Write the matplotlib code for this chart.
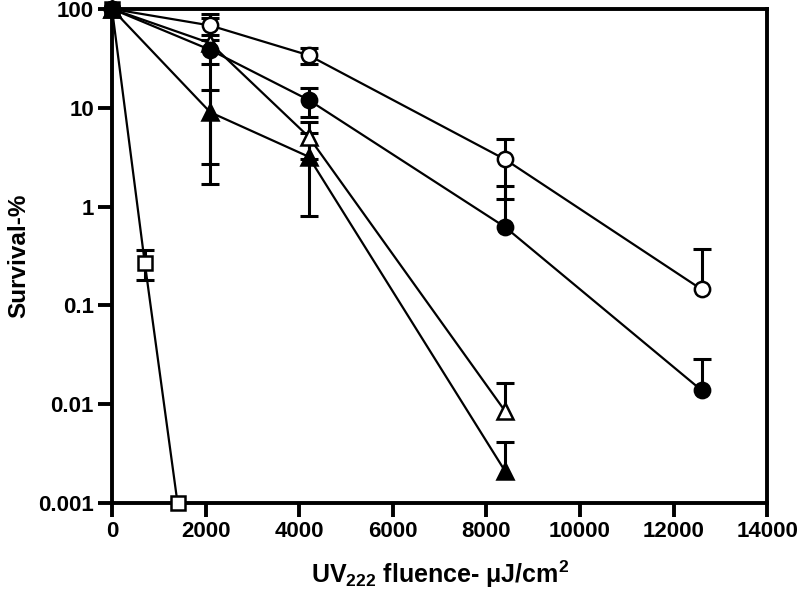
import matplotlib
matplotlib.use("Agg")
import matplotlib.pyplot as plt
import numpy as np

plt.rcParams['font.family'] = ['Liberation Sans', 'DejaVu Sans']
plt.rcParams['mathtext.fontset'] = 'custom'
plt.rcParams['mathtext.rm'] = 'Liberation Sans'
plt.rcParams['mathtext.bf'] = 'Liberation Sans:bold'

# ---- data ----
open_circle_x = [0, 2100, 4200, 8400, 12600]
open_circle_y = [100, 68, 34, 3.0, 0.145]
open_circle_sd = [0, 13, 6, 1.8, 0.23]

closed_circle_x = [0, 2100, 4200, 8400, 12600]
closed_circle_y = [100, 38.5, 12, 0.62, 0.0138]
closed_circle_sd = [0, 10.5, 4, 0.98, 0.0147]

open_tri_x = [0, 2100, 4200, 8400]
open_tri_y = [100, 45, 5.1, 0.0085]
open_tri_sd = [0, 43.3, 2.1, 0.0078]

closed_tri_x = [0, 2100, 4200, 8400]
closed_tri_y = [100, 9, 3.2, 0.0021]
closed_tri_sd = [0, 6.3, 2.4, 0.002]

square_x = [0, 700, 1400]
square_y = [100, 0.27, 0.001]
square_sd = [0, 0.09, 0]

x_ticks = [0, 2000, 4000, 6000, 8000, 10000, 12000, 14000]
y_ticks = [0.001, 0.01, 0.1, 1, 10, 100]
y_ticklabels = ["0.001", "0.01", "0.1", "1", "10", "100"]

fig = plt.figure(figsize=(8, 5.96), dpi=100)
ax = fig.add_axes([0.14, 0.156, 0.819, 0.829])
ax.set_yscale('log')
ax.set_xlim(0, 14000)
ymin, ymax = 0.001, 100
ax.set_ylim(ymin, ymax)

series = [
    (square_x, square_y, square_sd, 's', 'white'),
    (open_circle_x, open_circle_y, open_circle_sd, 'o', 'white'),
    (open_tri_x, open_tri_y, open_tri_sd, '^', 'white'),
    (closed_circle_x, closed_circle_y, closed_circle_sd, 'o', 'black'),
    (closed_tri_x, closed_tri_y, closed_tri_sd, '^', 'black'),
]

for i, (xs, ys, sds, mk, fc) in enumerate(series):
    for x, y, s in zip(xs, ys, sds):
        if s <= 0:
            continue
        hi = y + s
        lo = y - s
        if lo > ymin:
            ax.plot([x, x], [lo, hi], color='black', lw=2.2, zorder=2, clip_on=False,
                    solid_capstyle='butt')
            ax.plot([x, x], [lo, hi], ls='none', marker='_', ms=13, mew=2.2,
                    color='black', zorder=2, clip_on=False)
        else:
            ax.plot([x, x], [y, hi], color='black', lw=2.2, zorder=2, clip_on=False,
                    solid_capstyle='butt')
            ax.plot([x], [hi], ls='none', marker='_', ms=13, mew=2.2,
                    color='black', zorder=2, clip_on=False)
    ms = {'o': 11, '^': 11, 's': 10.5}[mk]
    ax.plot(xs, ys, color='black', lw=1.6, marker=mk, ms=ms, mfc=fc, mec='black',
            mew=1.8, zorder=3 + i * 0.1, clip_on=False)

ax.set_xticks(x_ticks)
ax.set_xticklabels([str(v) for v in x_ticks])
ax.set_yticks(y_ticks)
ax.set_yticklabels(y_ticklabels)
ax.yaxis.set_minor_locator(matplotlib.ticker.NullLocator())

for sp in ax.spines.values():
    sp.set_linewidth(2.8)
    sp.set_color('black')

ax.tick_params(axis='both', which='major', length=10, width=2.8, direction='out',
               labelsize=16, pad=3)
for lab in ax.get_xticklabels() + ax.get_yticklabels():
    lab.set_fontweight('bold')

ax.set_xlabel(r'UV$_{\mathbf{222}}$ fluence- μJ/cm$^{\mathbf{2}}$', fontsize=18,
              fontweight='bold', labelpad=12)
ax.set_ylabel('Survival-%', fontsize=17.5, fontweight='bold', labelpad=6)

fig.savefig('out.png', dpi=100)
